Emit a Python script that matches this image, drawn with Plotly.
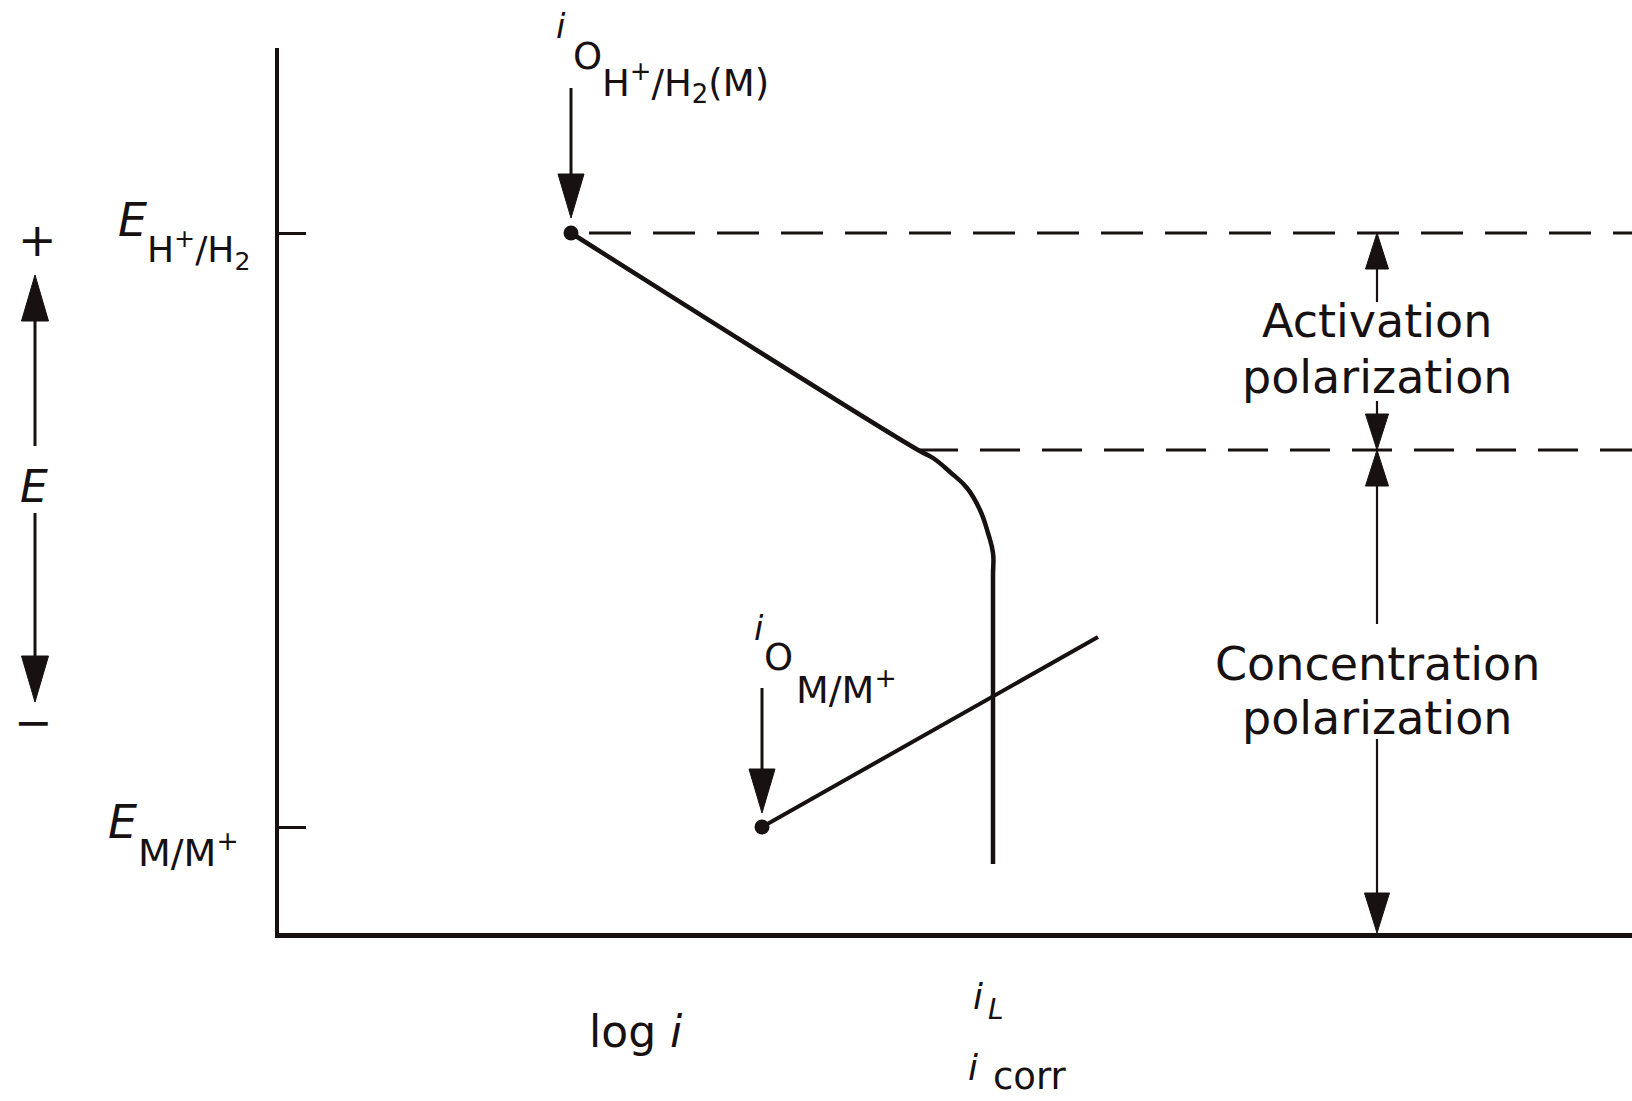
import math
import plotly.graph_objects as go

# ---------------------------------------------------------------------------
# Values (arbitrary units: x = log i, y = E)
# ---------------------------------------------------------------------------
E_H2 = 7.00          # reversible potential E(H+/H2)
E_M = 1.06           # reversible potential E(M/M+)
E_KNEE = 4.83        # potential where concentration polarization takes over
LOG_I0_H2 = 2.92     # exchange current density of H+/H2 on M
LOG_I0_M = 4.83      # exchange current density of M/M+
LOG_I_KNEE = 6.39    # log i at the knee of the cathodic curve
LOG_IL = 7.14        # limiting current density (= i_corr)

# cathodic (hydrogen) curve: Tafel line, knee, then vertical limiting current
h2_log_i = [2.92, 6.39, 6.54, 6.71, 6.88, 7.01, 7.09, 7.14, 7.14, 7.14]
h2_E = [7.00, 4.83, 4.75, 4.61, 4.45, 4.23, 4.00, 3.80, 3.56, 0.69]

# anodic (metal dissolution) Tafel line
m_log_i = [4.83, 8.19]
m_E = [1.06, 2.96]

# potentials marked on the E axis
tick_E = [E_M, E_H2]

X_RANGE = [0.0, 13.53]
Y_RANGE = [0.0, 8.85]

INK = "#171111"
FONT = "DejaVu Sans"


def to_px(x):
    return (x - X_RANGE[0]) / (X_RANGE[1] - X_RANGE[0])


def to_py(y):
    return (y - Y_RANGE[0]) / (Y_RANGE[1] - Y_RANGE[0])


fig = go.Figure()

# dashed guide lines at E(H+/H2) and at the knee
fig.add_trace(go.Scatter(
    x=[LOG_I0_H2 + 0.18, X_RANGE[1]], y=[E_H2, E_H2], mode="lines",
    line=dict(color=INK, width=3, dash="42px,22px"), hoverinfo="skip"))
fig.add_trace(go.Scatter(
    x=[LOG_I_KNEE, X_RANGE[1]], y=[E_KNEE, E_KNEE], mode="lines",
    line=dict(color=INK, width=3, dash="40px,22px"), hoverinfo="skip"))

# polarization curves
fig.add_trace(go.Scatter(
    x=h2_log_i, y=h2_E, mode="lines",
    line=dict(color=INK, width=4.5, shape="spline", smoothing=1.2),
    hoverinfo="skip"))
fig.add_trace(go.Scatter(
    x=m_log_i, y=m_E, mode="lines",
    line=dict(color=INK, width=4), hoverinfo="skip"))

# exchange current density points
fig.add_trace(go.Scatter(
    x=[LOG_I0_H2, LOG_I0_M], y=[E_H2, E_M], mode="markers",
    marker=dict(color=INK, size=15), hoverinfo="skip"))

shapes = []


def arrow(x0, y0, x1, y1, width, head_len, head_w):
    """Shaft plus filled triangular head, all in axis units (100 px each)."""
    dx, dy = x1 - x0, y1 - y0
    n = math.hypot(dx, dy)
    ux, uy = dx / n, dy / n
    bx, by = x1 - ux * head_len, y1 - uy * head_len
    nx, ny = -uy, ux
    shapes.append(dict(
        type="line", xref="paper", yref="paper",
        x0=to_px(x0), y0=to_py(y0), x1=to_px(bx), y1=to_py(by),
        line=dict(color=INK, width=width)))
    p1 = (to_px(x1), to_py(y1))
    p2 = (to_px(bx + nx * head_w / 2), to_py(by + ny * head_w / 2))
    p3 = (to_px(bx - nx * head_w / 2), to_py(by - ny * head_w / 2))
    shapes.append(dict(
        type="path", xref="paper", yref="paper",
        path=f"M {p1[0]},{p1[1]} L {p2[0]},{p2[1]} L {p3[0]},{p3[1]} Z",
        fillcolor=INK, line=dict(color=INK, width=1)))


# arrows pointing at the exchange current densities
arrow(LOG_I0_H2, 8.45, LOG_I0_H2, E_H2 + 0.15, 3, 0.44, 0.26)
arrow(LOG_I0_M, 2.45, LOG_I0_M, E_M + 0.14, 3, 0.44, 0.26)

# E direction arrows on the left
arrow(-2.44, 4.87, -2.44, 6.58, 3, 0.46, 0.27)
arrow(-2.44, 4.20, -2.44, 2.31, 3, 0.46, 0.27)

# polarization ranges on the right
ARROW_X = 10.98
arrow(ARROW_X, 6.31, ARROW_X, E_H2, 2.2, 0.36, 0.23)
arrow(ARROW_X, 5.32, ARROW_X, E_KNEE, 2.2, 0.36, 0.23)
arrow(ARROW_X, 3.09, ARROW_X, E_KNEE, 2.2, 0.36, 0.23)
arrow(ARROW_X, 1.94, ARROW_X, Y_RANGE[0], 2.2, 0.40, 0.25)

annotations = []


def label(x, y, text, size, xanchor="center", yanchor="middle"):
    annotations.append(dict(
        x=to_px(x), y=to_py(y), xref="paper", yref="paper", text=text,
        showarrow=False, xanchor=xanchor, yanchor=yanchor, borderpad=0,
        font=dict(family=FONT, size=size, color=INK)))


# i0 for H+/H2 on M
label(2.82, 9.07, "<i>i</i>", 34)
label(3.08, 8.76, "O", 37)
label(3.22, 8.50, "H<sup>+</sup>/H<sub>2</sub>(M)", 37, xanchor="left")

# i0 for M/M+
label(4.80, 3.05, "<i>i</i>", 34)
label(4.99, 2.76, "O", 37)
label(5.16, 2.46, "M/M<sup>+</sup>", 38, xanchor="left")

# E axis labels
label(-1.47, 7.13, "<i>E</i>", 46)
label(-1.33, 6.83, "H<sup>+</sup>/H<sub>2</sub>", 36, xanchor="left")
label(-1.57, 1.11, "<i>E</i>", 46)
label(-1.42, 0.83, "M/M<sup>+</sup>", 38, xanchor="left")

label(-2.42, 6.93, "+", 46)
label(-2.45, 4.47, "<i>E</i>", 44)
label(-2.45, 2.11, "\u2212", 46)

# log i axis labels
label(3.57, -0.98, "log <i>i</i>", 44)
label(6.99, -0.63, "<i>i</i>", 36)
label(7.17, -0.76, "<i>L</i>", 28)
label(6.94, -1.34, "<i>i</i>", 36)
label(7.51, -1.43, "corr", 37)

# polarization regions
label(ARROW_X, 6.12, "Activation", 46)
label(ARROW_X, 5.56, "polarization", 46)
label(ARROW_X, 2.69, "Concentration", 46)
label(ARROW_X, 2.15, "polarization", 46)

fig.update_layout(
    width=1632, height=1101, autosize=False,
    margin=dict(l=279, r=0, t=48, b=168, pad=0),
    paper_bgcolor="white", plot_bgcolor="white",
    showlegend=False,
    shapes=shapes, annotations=annotations,
    xaxis=dict(range=X_RANGE, showline=True, linewidth=5, linecolor=INK,
               showgrid=False, zeroline=False, showticklabels=False,
               ticks="", fixedrange=True),
    yaxis=dict(range=Y_RANGE, showline=True, linewidth=4, linecolor=INK,
               showgrid=False, zeroline=False, showticklabels=False,
               tickmode="array", tickvals=tick_E, ticks="inside",
               ticklen=27, tickwidth=2.5, tickcolor=INK, fixedrange=True),
)

fig.write_html("out.html", config=dict(displayModeBar=False))
